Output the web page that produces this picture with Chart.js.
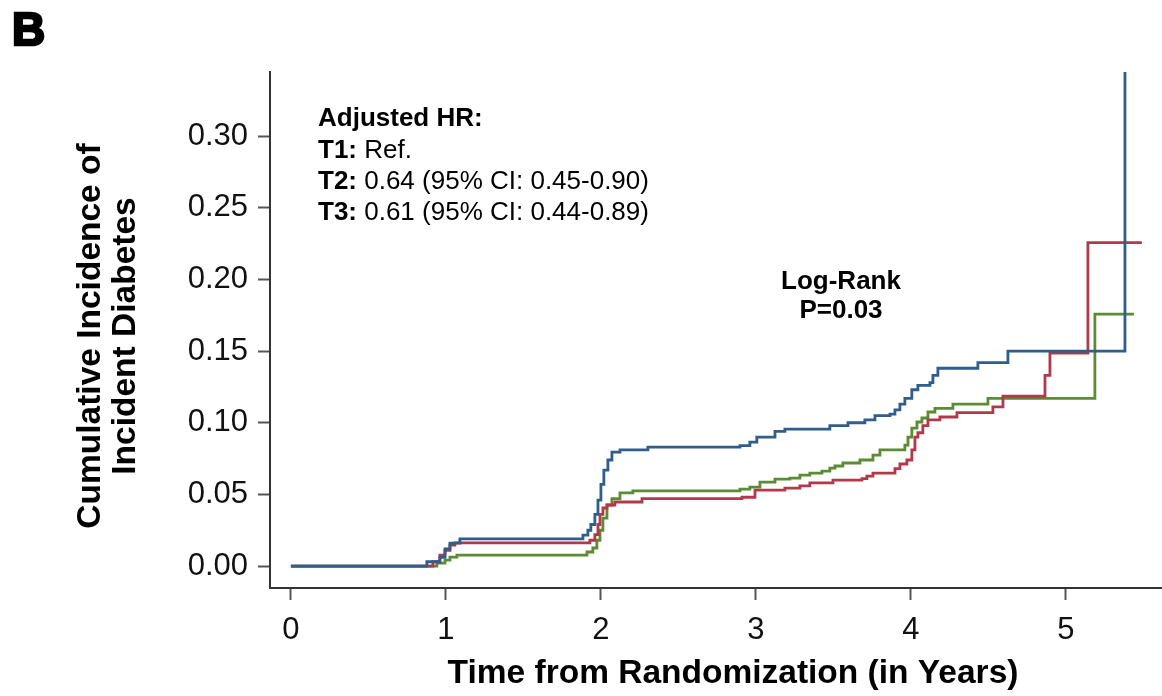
<!DOCTYPE html>
<html>
<head>
<meta charset="utf-8">
<script src="https://cdn.jsdelivr.net/npm/chart.js@4.4.1/dist/chart.umd.min.js"></script>
<style>
  html, body { margin: 0; padding: 0; background: #ffffff; }
  #wrap { width: 1162px; height: 696px; position: relative; }
</style>
</head>
<body>
<div id="wrap"><canvas id="c" width="1162" height="696"></canvas></div>
<script>
// ---- Data ----
const xTicks = [0, 1, 2, 3, 4, 5];
const yTicks = [0.00, 0.05, 0.10, 0.15, 0.20, 0.25, 0.30];

const t1Times  = [0, 0.877, 0.961, 0.994, 1.026, 1.090, 1.884, 1.916, 1.935, 1.961, 1.981, 2.000, 2.019, 2.045, 2.071, 2.123, 2.303, 2.897, 2.961, 3.006, 3.123, 3.187, 3.477, 3.594, 3.703, 3.768, 3.865, 3.897, 3.929, 3.961, 4.006, 4.045, 4.123, 4.142, 4.174, 4.432, 4.626, 5.381];
const t1Values = [0, 0.003, 0.006, 0.012, 0.016, 0.019, 0.0216, 0.025, 0.029, 0.036, 0.046, 0.057, 0.067, 0.074, 0.0795, 0.081, 0.083, 0.084, 0.0865, 0.090, 0.094, 0.0956, 0.098, 0.100, 0.102, 0.105, 0.106, 0.109, 0.113, 0.117, 0.123, 0.126, 0.128, 0.133, 0.138, 0.142, 0.150, 0.400];

const t2Times  = [0, 0.916, 0.961, 0.994, 1.026, 1.058, 1.929, 1.961, 1.981, 1.994, 2.013, 2.039, 2.090, 2.265, 2.910, 2.994, 3.187, 3.284, 3.348, 3.497, 3.684, 3.716, 3.755, 3.897, 3.929, 3.974, 4.006, 4.026, 4.045, 4.077, 4.110, 4.187, 4.297, 4.529, 4.594, 4.865, 4.897, 5.142, 5.490];
const t2Values = [0, 0.003, 0.0077, 0.011, 0.0146, 0.0162, 0.018, 0.022, 0.029, 0.036, 0.0405, 0.0426, 0.0447, 0.047, 0.048, 0.053, 0.0544, 0.056, 0.058, 0.060, 0.061, 0.0628, 0.0649, 0.068, 0.0712, 0.074, 0.081, 0.090, 0.093, 0.098, 0.102, 0.104, 0.107, 0.111, 0.1186, 0.133, 0.1486, 0.2256, 0.2256];

const t3Times  = [0, 0.942, 0.994, 1.026, 1.071, 1.910, 1.948, 1.974, 1.994, 2.013, 2.039, 2.071, 2.123, 2.206, 2.897, 2.961, 3.026, 3.123, 3.219, 3.284, 3.348, 3.426, 3.477, 3.510, 3.561, 3.671, 3.755, 3.800, 3.961, 3.981, 4.006, 4.039, 4.071, 4.110, 4.155, 4.271, 4.497, 5.187, 5.439];
const t3Values = [0, 0.0021, 0.0042, 0.0063, 0.0077, 0.0098, 0.0126, 0.018, 0.025, 0.0335, 0.0426, 0.047, 0.051, 0.0525, 0.0537, 0.0551, 0.0586, 0.0607, 0.0614, 0.0635, 0.0649, 0.0663, 0.0684, 0.0698, 0.0719, 0.0740, 0.0774, 0.081, 0.0844, 0.090, 0.0962, 0.1005, 0.1033, 0.1075, 0.110, 0.113, 0.117, 0.1758, 0.1758];

const seriesNames = ['T1', 'T2', 'T3'];
const seriesColors = ['#2f5d8c', '#b3394a', '#5b8b32'];

const toPoints = (ts, vs) => ts.map((t, i) => ({ x: t, y: vs[i] }));

const FONT = '"Liberation Sans", Arial, Helvetica, sans-serif';

const textPlugin = {
  id: 'texts',
  afterDraw(chart) {
    const ctx = chart.ctx;
    ctx.save();
    ctx.fillStyle = '#000';
    // Panel letter
    ctx.font = 'bold 46px ' + FONT;
    ctx.textBaseline = 'alphabetic';
    ctx.textAlign = 'left';
    ctx.lineWidth = 2.5;
    ctx.strokeStyle = '#000';
    ctx.strokeText('B', 12, 45);
    ctx.fillText('B', 12, 45);

    // Annotation
    ctx.textBaseline = 'middle';
    const lines = [
      ['Adjusted HR:', ''],
      ['T1:', ' Ref.'],
      ['T2:', ' 0.64 (95% CI: 0.45-0.90)'],
      ['T3:', ' 0.61 (95% CI: 0.44-0.89)']
    ];
    const ys = [119, 151, 182, 213];
    lines.forEach((l, i) => {
      ctx.font = 'bold 26px ' + FONT;
      ctx.fillText(l[0], 318, ys[i]);
      const w = ctx.measureText(l[0]).width;
      ctx.font = '26px ' + FONT;
      ctx.fillText(l[1], 318 + w, ys[i]);
    });

    ctx.textAlign = 'center';
    ctx.font = 'bold 26px ' + FONT;
    ctx.fillText('Log-Rank', 841, 282);
    ctx.fillText('P=0.03', 841, 311);

    // Axis titles
    ctx.font = 'bold 33.5px ' + FONT;
    ctx.fillText('Time from Randomization (in Years)', 733, 674);
    ctx.save();
    ctx.translate(91, 336);
    ctx.rotate(-Math.PI / 2);
    ctx.fillText('Cumulative Incidence of', 0, 0);
    ctx.restore();
    ctx.save();
    ctx.translate(126, 336);
    ctx.rotate(-Math.PI / 2);
    ctx.fillText('Incident Diabetes', 0, 0);
    ctx.restore();
    ctx.restore();
  }
};

new Chart(document.getElementById('c'), {
  type: 'line',
  data: {
    datasets: [
      { label: seriesNames[0], data: toPoints(t1Times, t1Values), borderColor: seriesColors[0] },
      { label: seriesNames[1], data: toPoints(t2Times, t2Values), borderColor: seriesColors[1] },
      { label: seriesNames[2], data: toPoints(t3Times, t3Values), borderColor: seriesColors[2] }
    ].map(d => Object.assign(d, { stepped: true, borderWidth: 2.8, pointRadius: 0, fill: false, tension: 0 }))
  },
  options: {
    responsive: false,
    devicePixelRatio: 1,
    animation: false,
    layout: { padding: { top: 72, left: 0, right: 0, bottom: 0 } },
    plugins: { legend: { display: false }, tooltip: { enabled: false } },
    scales: {
      x: {
        type: 'linear',
        min: -0.135,
        max: 5.62,
        afterBuildTicks(s) { s.ticks = xTicks.map(v => ({ value: v })); },
        afterFit(s) { s.height = 108; },
        grid: { display: true, drawOnChartArea: false, drawTicks: true, tickLength: 12, tickColor: '#555', tickWidth: 2 },
        border: { display: true, color: '#333', width: 2 },
        ticks: { color: '#111', font: { family: FONT, size: 31 }, padding: 12, maxRotation: 0, autoSkip: false,
                 callback: v => String(v) }
      },
      y: {
        type: 'linear',
        min: -0.0153,
        max: 0.3447,
        afterBuildTicks(s) { s.ticks = yTicks.map(v => ({ value: v })); },
        afterFit(s) { s.width = 270; },
        grid: { display: true, drawOnChartArea: false, drawTicks: true, tickLength: 12, tickColor: '#555', tickWidth: 2 },
        border: { display: true, color: '#333', width: 2 },
        ticks: { color: '#111', font: { family: FONT, size: 31 }, padding: 10, autoSkip: false,
                 callback: v => Number(v).toFixed(2) }
      }
    }
  },
  plugins: [textPlugin]
});
</script>
</body>
</html>
